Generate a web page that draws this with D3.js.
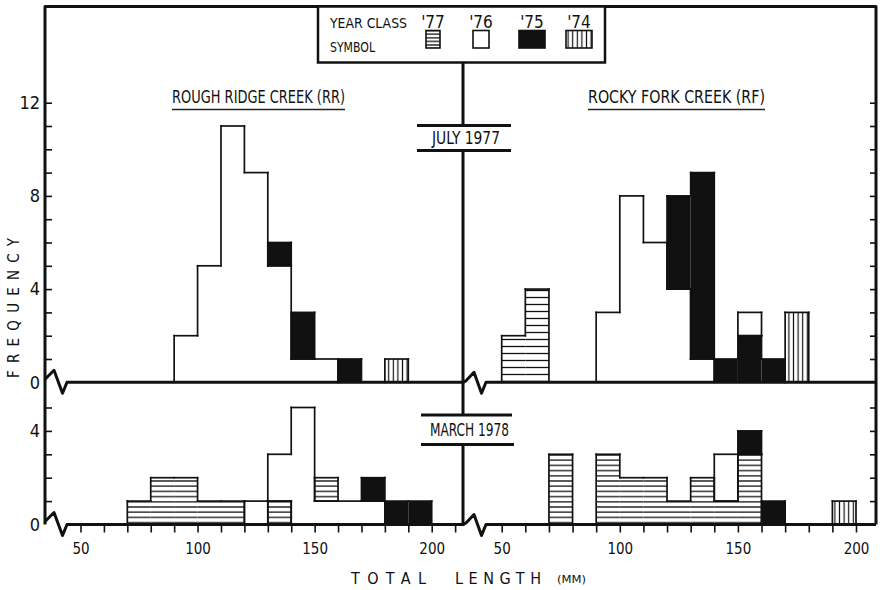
<!DOCTYPE html>
<html><head><meta charset="utf-8">
<script src="https://cdn.jsdelivr.net/npm/d3@7"></script>
<style>
body{margin:0;background:#fff}
svg{display:block}
text{font-family:"Liberation Sans Narrow","DejaVu Sans Condensed","DejaVu Sans",sans-serif;font-stretch:condensed;fill:#111}
</style></head><body>
<svg id="chart" width="880" height="590"></svg>
<script>
// ---------------- data ----------------
const yearClasses = ["77", "76", "75", "74"];
const yearLabels = ["'77", "'76", "'75", "'74"];
const binWidth = 10;
// rows: [bin start (mm), year class, count], stacked bottom -> top within a bin
const rrJuly = [
  [90, "76", 2], [100, "76", 5], [110, "76", 11], [120, "76", 9],
  [130, "76", 5], [130, "75", 1],
  [140, "76", 1], [140, "75", 2],
  [150, "76", 1], [160, "75", 1], [180, "74", 1]
];
const rfJuly = [
  [50, "77", 2], [60, "77", 4], [90, "76", 3], [100, "76", 8], [110, "76", 6],
  [120, "76", 4], [120, "75", 4], [130, "76", 1], [130, "75", 8],
  [140, "75", 1], [150, "75", 2], [150, "76", 1], [160, "75", 1], [170, "74", 3]
];
const rrMarch = [
  [70, "77", 1], [80, "77", 2], [90, "77", 2], [100, "77", 1], [110, "77", 1],
  [120, "76", 1], [130, "77", 1], [130, "76", 2], [140, "76", 5],
  [150, "76", 1], [150, "77", 1], [160, "76", 1], [170, "76", 1], [170, "75", 1],
  [180, "75", 1], [190, "75", 1]
];
const rfMarch = [
  [70, "77", 3], [90, "77", 3], [100, "77", 2], [110, "77", 2], [120, "77", 1], [130, "77", 2],
  [140, "77", 1], [140, "76", 2], [150, "77", 3], [150, "75", 1], [160, "75", 1], [190, "74", 1]
];
const xTickLabels = [50, 100, 150, 200];
const xMinorLeft = [50, 60, 70, 80, 90, 100, 110, 120, 130, 140, 150, 160, 170, 180, 190, 200, 210];
const xMinorRight = [50, 60, 70, 80, 90, 100, 110, 120, 130, 140, 150, 160, 170, 180, 190, 200];
const yTopTicks = [1, 2, 3, 4, 5, 6, 7, 8, 9, 10, 11, 12];
const yTopLabels = [0, 4, 8, 12];
const yBotTicks = [1, 2, 3, 4, 5];
const yBotLabels = [0, 4];
const creekTitles = ["ROUGH RIDGE CREEK (RR)", "ROCKY FORK CREEK (RF)"];
const dateTitles = ["JULY 1977", "MARCH 1978"];

// ---------------- layout ----------------
const svg = d3.select("#chart");
const INK = "#111";
const axL = 45, axR = 876, frameTop = 6.5, midX = 463;
const xLeft = d3.scaleLinear().domain([50, 200]).range([80.5, 431.7]);
const xRight = d3.scaleLinear().domain([50, 200]).range([501.7, 856]);
const yTop = d3.scaleLinear().domain([0, 12]).range([382.3, 102.7]);
const yBot = d3.scaleLinear().domain([0, 5]).range([524.5, 407.5]);

// patterns
const defs = svg.append("defs");
function hPattern(id, s) {
  const p = defs.append("pattern").attr("id", id).attr("patternUnits", "userSpaceOnUse")
    .attr("width", 8).attr("height", s);
  p.append("rect").attr("width", 8).attr("height", s).attr("fill", "#fff");
  p.append("line").attr("x1", 0).attr("x2", 8).attr("y1", s / 2).attr("y2", s / 2)
    .attr("stroke", INK).attr("stroke-width", 1.3);
}
hPattern("h77top", 7);
hPattern("h77bot", 5.2);
hPattern("h77leg", 3.6);
const vp = defs.append("pattern").attr("id", "v74").attr("patternUnits", "userSpaceOnUse")
  .attr("width", 4.6).attr("height", 8);
vp.append("rect").attr("width", 4.6).attr("height", 8).attr("fill", "#fff");
vp.append("line").attr("x1", 2.3).attr("x2", 2.3).attr("y1", 0).attr("y2", 8)
  .attr("stroke", INK).attr("stroke-width", 1.2);

function fillFor(cls, hatch) {
  if (cls === "77") return `url(#${hatch})`;
  if (cls === "76") return "#fff";
  if (cls === "75") return INK;
  return "url(#v74)";
}

function stackRows(rows) {
  const acc = new Map(), segs = [];
  rows.forEach(([bin, cls, n]) => {
    const y0 = acc.get(bin) || 0;
    segs.push({ bin, cls, y0, y1: y0 + n });
    acc.set(bin, y0 + n);
  });
  return segs;
}
function subtract(a, b, covers) {
  let pieces = [[a, b]];
  covers.forEach(([c, d]) => {
    const next = [];
    pieces.forEach(([p, q]) => {
      if (d <= p || c >= q) { next.push([p, q]); return; }
      if (p < c) next.push([p, c]);
      if (d < q) next.push([d, q]);
    });
    pieces = next;
  });
  return pieces.filter(([p, q]) => q - p > 1e-6);
}

function drawPanel(rows, x, y, hatch) {
  const segs = stackRows(rows);
  const g = svg.append("g");
  g.selectAll("rect.bar").data(segs).join("rect").attr("class", "bar")
    .attr("x", d => x(d.bin)).attr("width", d => x(d.bin + binWidth) - x(d.bin))
    .attr("y", d => y(d.y1)).attr("height", d => y(d.y0) - y(d.y1))
    .attr("fill", d => fillFor(d.cls, hatch));
  const lines = [];
  segs.forEach(s => {
    const xa = x(s.bin), xb = x(s.bin + binWidth);
    lines.push([xa, y(s.y1), xb, y(s.y1)]);
    if (s.y0 > 0) lines.push([xa, y(s.y0), xb, y(s.y0)]);
    [[s.bin - binWidth, xa], [s.bin + binWidth, xb]].forEach(([nb, xe]) => {
      const covers = segs.filter(o => o.bin === nb && o.cls === s.cls).map(o => [o.y0, o.y1]);
      subtract(s.y0, s.y1, covers).forEach(([p, q]) => lines.push([xe, y(p), xe, y(q)]));
    });
  });
  g.selectAll("line").data(lines).join("line")
    .attr("x1", d => d[0]).attr("y1", d => d[1]).attr("x2", d => d[2]).attr("y2", d => d[3])
    .attr("stroke", INK).attr("stroke-width", 1.7).attr("stroke-linecap", "square");
}

drawPanel(rrJuly, xLeft, yTop, "h77top");
drawPanel(rfJuly, xRight, yTop, "h77top");
drawPanel(rrMarch, xLeft, yBot, "h77bot");
drawPanel(rfMarch, xRight, yBot, "h77bot");

// ---------------- frame ----------------
const frame = svg.append("g").attr("fill", "none").attr("stroke", INK).attr("stroke-width", 3)
  .attr("stroke-linejoin", "round");
frame.append("path").attr("d", `M${axL},524.5 V${frameTop} H${axR} V524.5`);
function baseline(yb) {
  return `M${axL},${yb - 3} L${axL + 9},${yb - 12} L${axL + 17.5},${yb + 11} L${axL + 22},${yb} L${midX},${yb}` +
    ` L${midX + 3},${yb - 1.5} L${midX + 11},${yb - 10} L${midX + 18.5},${yb + 11} L${midX + 23},${yb} L${axR},${yb}`;
}
frame.append("path").attr("d", baseline(yTop(0)));
frame.append("path").attr("d", baseline(yBot(0)));
frame.append("path").attr("d", `M${midX},62 V125 M${midX},151 V415 M${midX},445 V526`);

// ---------------- axes ----------------
function styleAxis(g) {
  g.select(".domain").remove();
  g.selectAll(".tick line").attr("stroke", INK).attr("stroke-width", 1.6);
  g.selectAll("text").attr("fill", INK);
}
[[yTop, yTopTicks], [yBot, yBotTicks]].forEach(([y, t]) => {
  svg.append("g").attr("transform", `translate(${axL},0)`)
    .call(d3.axisLeft(y).tickValues(t).tickSize(-7).tickFormat("")).call(styleAxis);
  svg.append("g").attr("transform", `translate(${axR},0)`)
    .call(d3.axisRight(y).tickValues(t).tickSize(-6).tickFormat("")).call(styleAxis);
});
[[yTop, yTopLabels], [yBot, yBotLabels]].forEach(([y, t]) => {
  svg.append("g").attr("transform", `translate(${axL},0)`)
    .call(d3.axisLeft(y).tickValues(t).tickSize(0).tickPadding(5).tickFormat(d3.format("d")))
    .call(styleAxis).attr("font-size", 18).attr("font-family", null);
});
[[xLeft, xMinorLeft], [xRight, xMinorRight]].forEach(([x, t]) => {
  svg.append("g").attr("transform", `translate(0,${yBot(0)})`)
    .call(d3.axisBottom(x).tickValues(t).tickSize(8).tickFormat("")).call(styleAxis);
  svg.append("g").attr("transform", `translate(0,${yBot(0)})`)
    .call(d3.axisBottom(x).tickValues(xTickLabels).tickSize(0).tickPadding(19).tickFormat(d3.format("d")))
    .call(styleAxis).attr("font-size", 15).attr("font-family", null);
});

// ---------------- texts ----------------
function label(txt, x0, x1, yc, size) {
  return svg.append("text").attr("x", x0).attr("y", yc).attr("dy", "0.36em")
    .attr("font-size", size).attr("textLength", x1 - x0).attr("lengthAdjust", "spacingAndGlyphs")
    .text(txt);
}
// creek titles with underlines
label(creekTitles[0], 172, 345, 97, 17);
label(creekTitles[1], 588, 765, 97, 17);
svg.append("g").attr("stroke", "#222").attr("stroke-width", 1.4)
  .selectAll("line").data([[172, 345], [588, 765]]).join("line")
  .attr("x1", d => d[0]).attr("x2", d => d[1]).attr("y1", 109.5).attr("y2", 109.5);

// date labels with bars
label(dateTitles[0], 432, 500, 138, 17);
label(dateTitles[1], 430, 509, 430, 17);
svg.append("g").attr("stroke", INK).attr("stroke-width", 3)
  .selectAll("line").data([[417, 511, 125.5], [417, 511, 150.5], [421, 512, 415], [421, 514, 444.5]]).join("line")
  .attr("x1", d => d[0]).attr("x2", d => d[1]).attr("y1", d => d[2]).attr("y2", d => d[2]);

// axis titles
svg.append("text").attr("transform", "translate(14,308) rotate(-90)").attr("text-anchor", "start")
  .attr("x", -70).attr("dy", "0.36em").attr("font-size", 15)
  .attr("textLength", 140).attr("lengthAdjust", "spacing").text("FREQUENCY");
label("TOTAL", 351, 426, 578, 16).attr("lengthAdjust", "spacing");
label("LENGTH", 455, 541, 578, 16).attr("lengthAdjust", "spacing");
label("(MM)", 557, 586, 579, 11);

// ---------------- legend ----------------
const leg = svg.append("g");
leg.append("rect").attr("x", 318).attr("y", frameTop).attr("width", 287).attr("height", 56)
  .attr("fill", "#fff").attr("stroke", INK).attr("stroke-width", 2.5);
label("YEAR CLASS", 330, 407, 23, 14);
label("SYMBOL", 330, 375, 47, 14);
const swX = [[426, 14], [473, 16], [519, 26], [566, 26]];
leg.selectAll("rect.sw").data(yearClasses).join("rect").attr("class", "sw")
  .attr("x", (d, i) => swX[i][0]).attr("width", (d, i) => swX[i][1])
  .attr("y", 30.5).attr("height", 17.5)
  .attr("fill", d => fillFor(d, "h77leg")).attr("stroke", INK).attr("stroke-width", 1.6);
leg.selectAll("text.yl").data(yearLabels).join("text").attr("class", "yl")
  .attr("x", (d, i) => swX[i][0] + swX[i][1] / 2).attr("y", 22).attr("dy", "0.36em")
  .attr("text-anchor", "middle").attr("font-size", 17).text(d => d);
</script>
</body></html>
